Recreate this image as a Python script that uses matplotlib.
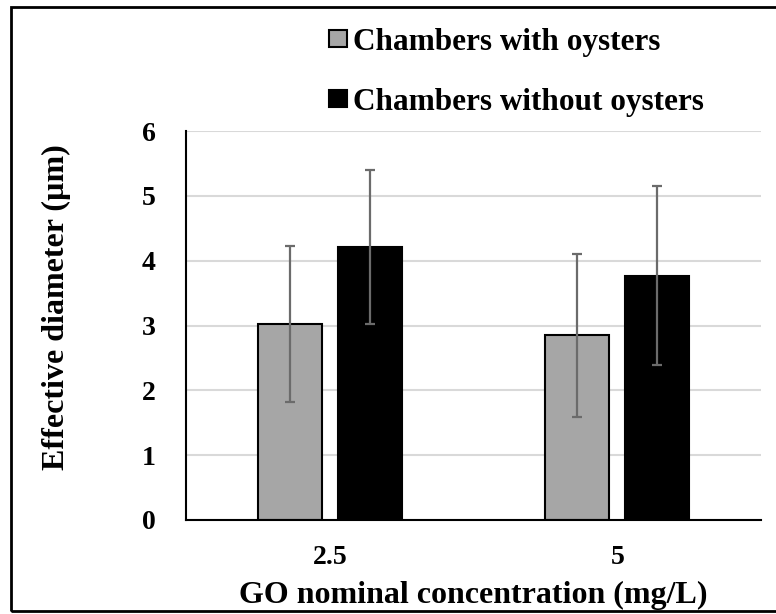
import numpy as np
import matplotlib
matplotlib.use("Agg")
import matplotlib.pyplot as plt
from matplotlib.patches import Rectangle

plt.rcParams['font.family'] = ['Liberation Serif', 'DejaVu Serif']
plt.rcParams['font.weight'] = 'bold'

categories = ['2.5', '5']
series_names = ['Chambers with oysters', 'Chambers without oysters']
with_oysters = [3.02, 2.85]
with_oysters_err = [1.20, 1.26]
without_oysters = [4.21, 3.77]
without_oysters_err = [1.19, 1.38]

fig = plt.figure(figsize=(7.76, 6.14), dpi=100)
ax = fig.add_axes([0.2397, 0.1531, 0.7410, 0.6335])

x = np.arange(len(categories))
w = 0.223
off = 0.139
ax.bar(x - off, with_oysters, w, color='#a6a6a6', edgecolor='black', linewidth=1.5,
       label=series_names[0], zorder=2)
ax.bar(x + off, without_oysters, w, color='black', edgecolor='black', linewidth=1.5,
       label=series_names[1], zorder=2)
ekw = dict(fmt='none', ecolor='#6b6b6b', elinewidth=1.6, capsize=3.8, capthick=1.6, zorder=3)
ax.errorbar(x - off, with_oysters, yerr=with_oysters_err, **ekw)
ax.errorbar(x + off, without_oysters, yerr=without_oysters_err, **ekw)

ax.set_xlim(-0.5, 1.5)
ax.set_ylim(0, 6)
ax.set_yticks(range(0, 7))
ax.set_xticks(x)
ax.set_xticklabels(categories)
ax.yaxis.grid(True, color='#d9d9d9', linewidth=1.5, zorder=0)
ax.set_axisbelow(True)
for s in ['top', 'right']:
    ax.spines[s].set_visible(False)
ax.spines['left'].set_linewidth(1.5)
ax.spines['bottom'].set_linewidth(1.5)
ax.tick_params(axis='both', length=0, labelsize=20)
ax.tick_params(axis='y', pad=22)
ax.tick_params(axis='x', pad=18)
for lab in ax.get_xticklabels() + ax.get_yticklabels():
    lab.set_fontweight('bold')

ax.set_xlabel('GO nominal concentration (mg/L)', fontsize=23, fontweight='bold', labelpad=8)
ax.set_ylabel('Effective diameter (µm)', fontsize=23, fontweight='bold')
ax.yaxis.set_label_coords(-0.20, 0.548)

fig.legend(loc='upper left', bbox_to_anchor=(0.424, 0.955), frameon=False,
           prop={'size': 22.5, 'weight': 'bold'}, handlelength=0.58, handleheight=0.48,
           handletextpad=0.19, labelspacing=1.0, borderaxespad=0, borderpad=0)

fig.patches.append(Rectangle((11 / 776, 3 / 614), 1.0, 604 / 614, transform=fig.transFigure,
                             fill=False, edgecolor='black', linewidth=2))

fig.savefig('out.png', dpi=100)
